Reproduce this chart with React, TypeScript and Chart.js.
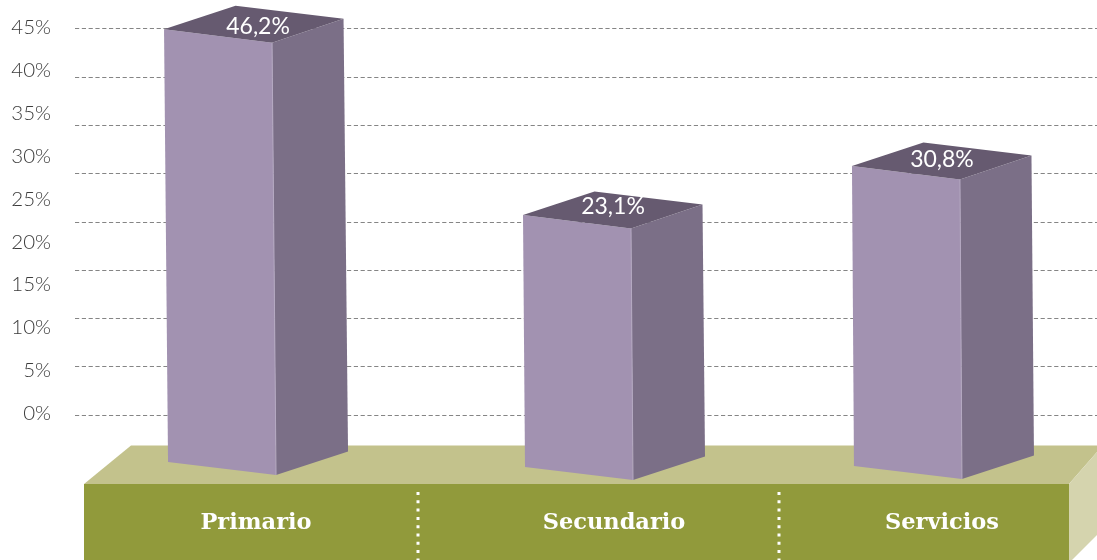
import React, { useEffect, useRef } from "react";
import { Chart, registerables } from "chart.js";

Chart.register(...registerables);

// ---- data ----
const categories = ["Primario", "Secundario", "Servicios"];
const shownShares = [46.2, 23.1, 30.8];
const plottedTops = [44.8, 23.14, 28.85];
const plottedBases = [-5.65, -6.24, -6.12];
const axisPercents = [0, 5, 10, 15, 20, 25, 30, 35, 40, 45];
const gridLevels = [0, 1, 2, 3, 4, 5, 6, 7, 8];

// ---- layout / style ----
const W = 1097;
const H = 560;
const BAND_TOP = 484;
const barShift = [-81.3, -63, -74.7]; // category centre -> front left edge
const bottomDx = [4, 2, 2];
const labelDx = [94, 90, 90];
const labelDy = [-3, -8, -6];
const catLabelX = [256, 614, 942];
const dividers = [418, 779];
const C = {
  front: "#a292b1",
  side: "#7b6f87",
  top: "#665a70",
  edge: "#b5a9c2",
  plateTop: "#c3c28c",
  plateFront: "#919a3b",
  plateSide: "#d5d4ae",
};

function poly(ctx: CanvasRenderingContext2D, pts: number[][], fill: string) {
  ctx.beginPath();
  pts.forEach((p, i) => (i ? ctx.lineTo(p[0], p[1]) : ctx.moveTo(p[0], p[1])));
  ctx.closePath();
  ctx.fillStyle = fill;
  ctx.fill();
}

const platePlugin = {
  id: "plate",
  beforeDatasetsDraw(chart: any) {
    const ctx = chart.ctx as CanvasRenderingContext2D;
    ctx.save();
    poly(ctx, [[84, BAND_TOP], [131, 445.5], [W, 445.5], [W, 452], [1069, BAND_TOP]], C.plateTop);
    poly(ctx, [[1069, BAND_TOP], [W, 452], [W, 535], [1072, H], [1069, H]], C.plateSide);
    poly(ctx, [[84, BAND_TOP], [1069, BAND_TOP], [1069, H], [84, H]], C.plateFront);
    ctx.strokeStyle = "#ffffff";
    ctx.lineWidth = 3;
    ctx.setLineDash([3, 5.3]);
    dividers.forEach((x) => {
      ctx.beginPath();
      ctx.moveTo(x, 492);
      ctx.lineTo(x, H);
      ctx.stroke();
    });
    ctx.setLineDash([]);
    ctx.fillStyle = "#ffffff";
    ctx.font = "bold 22.5px 'DejaVu Serif'";
    ctx.textAlign = "center";
    ctx.textBaseline = "middle";
    categories.forEach((c, i) => ctx.fillText(c, catLabelX[i], 523));
    ctx.restore();
  },
};

const boxPlugin = {
  id: "box3d",
  afterDatasetsDraw(chart: any) {
    const ctx = chart.ctx as CanvasRenderingContext2D;
    const meta = chart.getDatasetMeta(0);
    ctx.save();
    meta.data.forEach((el: any, i: number) => {
      const x0 = el.x + barShift[i];
      const yt = el.y;
      const yb = el.base;
      const dx = bottomDx[i];
      const tl = [x0, yt];
      const tr = [x0 + 108, yt + 13.5];
      const tb = [x0 + 179.5, yt - 10.5];
      const tk = [x0 + 71.5, yt - 23.5];
      const bl = [x0 + dx, yb];
      const br = [x0 + dx + 108, yb + 13];
      const bb = [x0 + dx + 180, yb - 10.5];
      poly(ctx, [tl, tr, br, bl], C.front);
      poly(ctx, [tr, tb, bb, br], C.side);
      poly(ctx, [tl, tk, tb, tr], C.top);
      ctx.strokeStyle = C.edge;
      ctx.lineWidth = 1;
      ctx.beginPath();
      ctx.moveTo(tr[0], tr[1]);
      ctx.lineTo(br[0], br[1]);
      ctx.stroke();
      ctx.fillStyle = "#ffffff";
      ctx.font = "400 23px Lato";
      ctx.textAlign = "center";
      ctx.textBaseline = "middle";
      const text = shownShares[i].toFixed(1).replace(".", ",") + "%";
      ctx.fillText(text, x0 + labelDx[i], yt + labelDy[i]);
    });
    ctx.restore();
  },
};

export default function App() {
  const ref = useRef<HTMLCanvasElement | null>(null);
  useEffect(() => {
    document.body.style.margin = "0";
    document.body.style.background = "#ffffff";
    const chart = new Chart(ref.current as HTMLCanvasElement, {
      type: "bar",
      plugins: [platePlugin, boxPlugin],
      data: {
        labels: categories,
        datasets: [
          {
            label: "Participación",
            data: plottedTops.map((t, i) => [plottedBases[i], t]) as any,
            backgroundColor: "rgba(0,0,0,0)",
            barThickness: 100,
          },
        ],
      },
      options: {
        responsive: false,
        animation: false,
        layout: { padding: 0, autoPadding: false },
        plugins: { legend: { display: false }, tooltip: { enabled: false } },
        scales: {
          x: {
            type: "category",
            grid: { display: false },
            border: { display: false },
            ticks: { display: false },
            afterFit(s: any) {
              s.height = H - BAND_TOP;
              s.paddingLeft = 0;
              s.paddingRight = 0;
            },
          },
          y: {
            type: "linear",
            position: "left",
            min: -8.22,
            max: 48.2,
            grid: { display: false, drawTicks: false, tickLength: 0 },
            border: { display: false },
            ticks: {
              padding: 24,
              color: "#3c3c3c",
              font: { family: "Lato", size: 20.5, weight: "300" },
              callback: (v: any) => `${v}%`,
            },
            afterBuildTicks(s: any) {
              s.ticks = axisPercents.map((value) => ({ value }));
            },
            afterFit(s: any) {
              s.width = 75;
              s.paddingTop = 0;
              s.paddingBottom = 0;
            },
          },
          y2: {
            type: "linear",
            axis: "y",
            position: "left",
            min: -1.43,
            max: 8.601,
            grid: { display: true, color: "#858585", lineWidth: 1, drawTicks: false, tickLength: 0 },
            border: { display: false, dash: [4.2, 2.6] },
            ticks: { display: false },
            afterBuildTicks(s: any) {
              s.ticks = gridLevels.map((value) => ({ value }));
            },
            afterFit(s: any) {
              s.width = 0;
              s.paddingTop = 0;
              s.paddingBottom = 0;
            },
          },
        },
      } as any,
    });
    return () => chart.destroy();
  }, []);
  return <canvas ref={ref} width={W} height={H} style={{ display: "block" }} />;
}
